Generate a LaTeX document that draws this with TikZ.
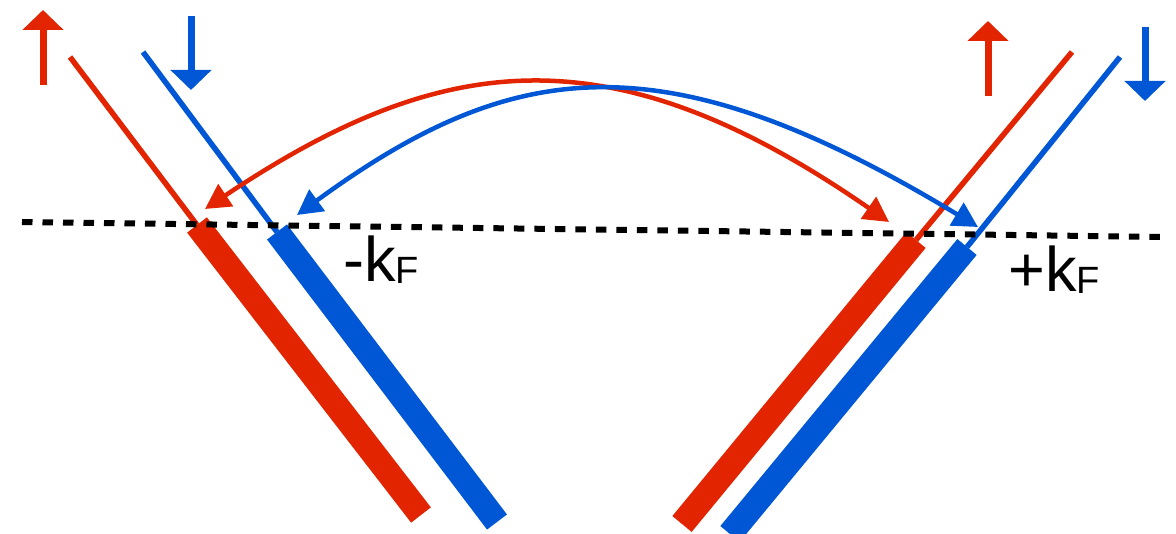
\documentclass[tikz,border=0pt]{standalone}
\usepackage{fontspec}
\setmainfont{Liberation Sans}
\usetikzlibrary{arrows.meta}
\definecolor{myred}{RGB}{226,37,0}
\definecolor{myblue}{RGB}{0,87,214}

\begin{document}
\begin{tikzpicture}[x=1pt, y=-1pt, >={Triangle[length=25pt,width=26pt]},
        spin/.style={line width=7pt, -{Triangle[length=20pt,width=40pt]}},
        hop/.style={line width=4.5pt, <->},
        kf/.style={anchor=base west, inner sep=0pt, font=\fontsize{63}{63}\selectfont}]
        \def\thin{5.5pt}
        \def\thick{25pt}
        \useasboundingbox (0,0) rectangle (1176,534);

        % -- Left branch: thin line above the Fermi level, thick bar below --
        \draw[myred, line width=\thin] (70,57) -- (197,225);
        \draw[myred, line width=\thick] (197,225) -- (421,515);
        \draw[myblue, line width=\thin] (143,52) -- (277,232);
        \draw[myblue, line width=\thick] (277,232) -- (497,522);

        % -- Right branch: same, mirrored --
        \draw[myred, line width=\thin] (1072,52) -- (916,240);
        \draw[myred, line width=\thick] (916,240) -- (682,524);
        \draw[myblue, line width=\thin] (1120,57) -- (967,247);
        \draw[myblue, line width=\thick] (967,247) -- (730,534);

        % -- Fermi level --
        \draw[black, line width=6pt, dash pattern=on 10.5pt off 10pt] (22,222) -- (1165,237);

        % -- Spin arrows above each line --
        \draw[spin, myred] (43,85) -- (43,10);
        \draw[spin, myblue] (191,16) -- (191,90);
        \draw[spin, myred] (988,96) -- (988,21);
        \draw[spin, myblue] (1145,27) -- (1145,101);

        % -- Scattering between the two Fermi points --
        \coordinate (redL) at (205,209);
        \coordinate (redR) at (889,222);
        \coordinate (blueL) at (297,215);
        \coordinate (blueR) at (978,227);
        \draw[hop, myred] (redL) .. controls (440,52) and (609,28) .. (redR);
        \draw[hop, myblue] (blueL) .. controls (512,58) and (663,36) .. (blueR);

        % -- Labels --
        \node[kf] (kminus) at (343,282) {-k\raisebox{-2pt}{\fontsize{38}{38}\selectfont F}};
        \node[kf] (kplus) at (1008,292) {+k\raisebox{-2pt}{\fontsize{38}{38}\selectfont F}};

    \end{tikzpicture}
\end{document}
